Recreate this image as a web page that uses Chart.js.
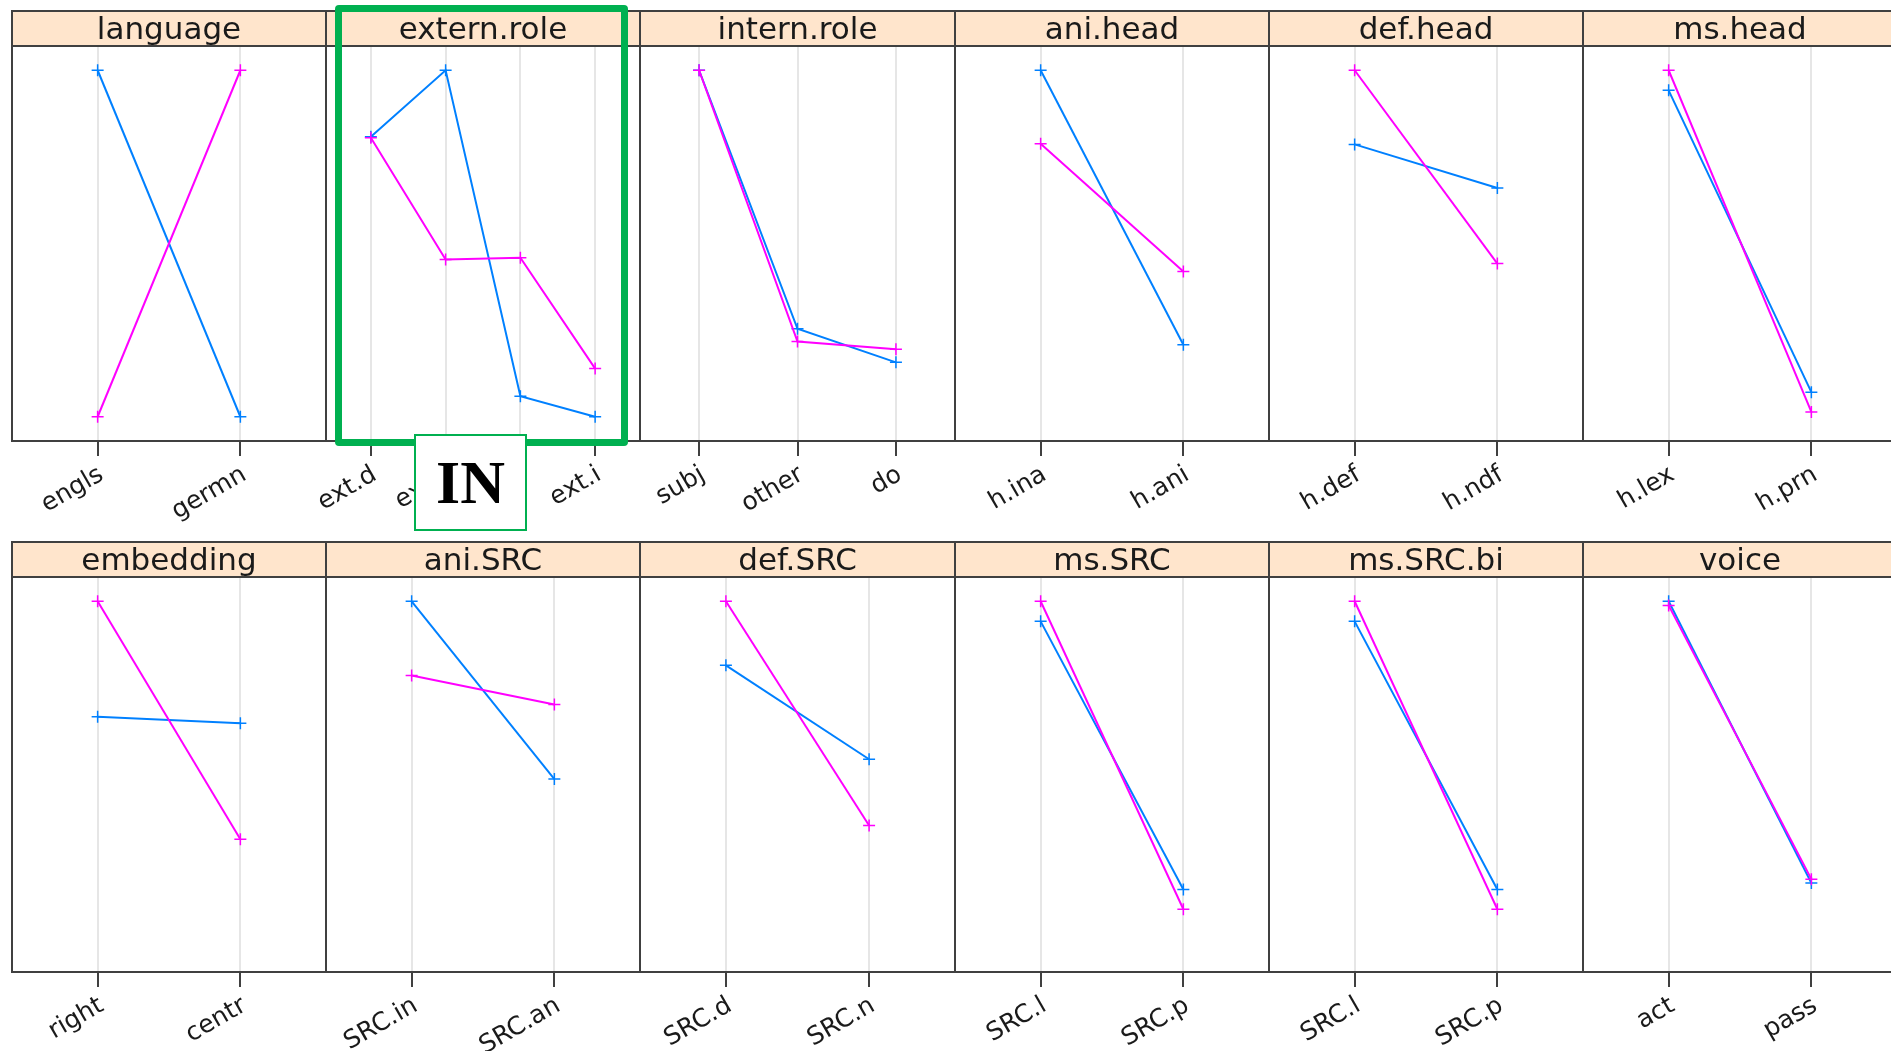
<!DOCTYPE html>
<html>
<head>
<meta charset="utf-8">
<title>Perfiles por factor</title>
<script src="https://cdn.jsdelivr.net/npm/chart.js@4.4.1/dist/chart.umd.min.js"></script>
<style>
  html, body { margin: 0; padding: 0; background: #fff; overflow: hidden; }
  body { width: 1891px; height: 1051px; position: relative; }
  canvas.panel { position: absolute; }
  #marco {
    position: absolute; left: 335px; top: 5px; width: 293px; height: 441px;
    box-sizing: border-box; border: 7px solid #00b050; border-radius: 4px; z-index: 10;
  }
  #etiqueta {
    position: absolute; left: 414px; top: 434px; width: 113px; height: 97px;
    box-sizing: border-box; border: 2px solid #00b050; background: #fff; z-index: 11;
    font: bold 62px "Liberation Serif", "DejaVu Serif", serif; color: #000;
    display: flex; align-items: center; justify-content: center;
  }
</style>
</head>
<body>
<div id="marco"></div>
<div id="etiqueta">IN</div>
<script>
// factores (uno por panel), en orden de lectura
var panelNames = ["language", "extern.role", "intern.role", "ani.head", "def.head", "ms.head",
                  "embedding", "ani.SRC", "def.SRC", "ms.SRC", "ms.SRC.bi", "voice"];

// niveles de cada factor
var levelLabels = [
    ["engls", "germn"],
    ["ext.d", "ext.s", "ext.o", "ext.i"],
    ["subj", "other", "do"],
    ["h.ina", "h.ani"],
    ["h.def", "h.ndf"],
    ["h.lex", "h.prn"],
    ["right", "centr"],
    ["SRC.in", "SRC.an"],
    ["SRC.d", "SRC.n"],
    ["SRC.l", "SRC.p"],
    ["SRC.l", "SRC.p"],
    ["act", "pass"]
];

// valores del grupo azul (ingles)
var english = [
    [1.0, 0.0],
    [0.808, 1.0, 0.059, 0.0],
    [1.0, 0.254, 0.157],
    [1.0, 0.208],
    [0.786, 0.66],
    [0.942, 0.071],
    [0.667, 0.648],
    [1.0, 0.487],
    [0.815, 0.544],
    [0.942, 0.168],
    [0.942, 0.168],
    [1.0, 0.187]
];

// valores del grupo rosa (aleman)
var german = [
    [0.0, 1.0],
    [0.805, 0.454, 0.459, 0.139],
    [1.0, 0.217, 0.195],
    [0.788, 0.419],
    [1.0, 0.442],
    [1.0, 0.014],
    [1.0, 0.313],
    [0.786, 0.702],
    [1.0, 0.353],
    [1.0, 0.111],
    [1.0, 0.111],
    [0.988, 0.198]
];

var colLeft = 12, colWidth = 314.2;
var rowTop = [10, 541];
var stripH = 36, panelH = 395, axisH = 100, padL = 80, padR = 20;

// fondo de la tira y cajas de cada panel
var cajaPanel = {
    id: 'cajaPanel',
    beforeDraw: function (chart) {
        var a = chart.chartArea, ctx = chart.ctx;
        ctx.save();
        ctx.fillStyle = '#ffe5cc';
        ctx.fillRect(a.left, a.top - stripH, a.right - a.left, stripH);
        ctx.restore();
    },
    afterDraw: function (chart) {
        var a = chart.chartArea, ctx = chart.ctx;
        ctx.save();
        ctx.strokeStyle = '#404040';
        ctx.lineWidth = 2;
        ctx.strokeRect(a.left, a.top - stripH + 1, a.right - a.left, stripH - 1);
        ctx.strokeRect(a.left, a.top, a.right - a.left, a.bottom - a.top);
        ctx.restore();
    }
};

function crearPanel(k) {
    var fila = Math.floor(k / 6), col = k % 6;
    var x0 = Math.round(colLeft + col * colWidth);
    var x1 = Math.round(colLeft + (col + 1) * colWidth);
    var labels = levelLabels[k];

    var canvas = document.createElement('canvas');
    canvas.className = 'panel';
    canvas.width = padL + (x1 - x0) + padR;
    canvas.height = stripH + panelH + axisH;
    canvas.style.left = (x0 - padL) + 'px';
    canvas.style.top = rowTop[fila] + 'px';
    document.body.appendChild(canvas);

    function puntos(arr) {
        return arr.map(function (v, i) { return { x: i + 1, y: v }; });
    }

    new Chart(canvas.getContext('2d'), {
        type: 'line',
        data: {
            datasets: [
                {
                    label: 'english',
                    data: puntos(english[k]),
                    borderColor: '#0080ff',
                    backgroundColor: '#0080ff',
                    borderWidth: 2,
                    pointStyle: 'cross',
                    pointRadius: 6,
                    pointBorderWidth: 1.5,
                    order: 1
                },
                {
                    label: 'german',
                    data: puntos(german[k]),
                    borderColor: '#ff00ff',
                    backgroundColor: '#ff00ff',
                    borderWidth: 2,
                    pointStyle: 'cross',
                    pointRadius: 6,
                    pointBorderWidth: 1.5,
                    order: 0
                }
            ]
        },
        options: {
            responsive: false,
            animation: false,
            devicePixelRatio: 1,
            layout: { padding: { left: padL, right: padR, top: 0, bottom: 0 } },
            plugins: {
                legend: { display: false },
                tooltip: { enabled: false },
                title: {
                    display: true,
                    text: panelNames[k],
                    color: '#1a1a1a',
                    font: { family: 'DejaVu Sans', size: 31, weight: 'normal', lineHeight: 1 },
                    padding: { top: 5, bottom: 0 }
                }
            },
            scales: {
                x: {
                    type: 'linear',
                    min: 0.4,
                    max: labels.length + 0.6,
                    afterBuildTicks: function (scale) {
                        scale.ticks = labels.map(function (_, i) { return { value: i + 1 }; });
                    },
                    afterFit: function (scale) { scale.height = axisH; },
                    grid: {
                        color: '#e6e6e6',
                        lineWidth: 2,
                        tickColor: '#404040',
                        tickWidth: 2,
                        tickLength: 15
                    },
                    border: { display: true, color: '#404040', width: 2 },
                    ticks: {
                        autoSkip: false,
                        minRotation: 30,
                        maxRotation: 30,
                        padding: 4,
                        labelOffset: 4,
                        color: '#1a1a1a',
                        font: { family: 'DejaVu Sans', size: 25 },
                        callback: function (v) { return labels[v - 1]; }
                    }
                },
                y: { display: false, min: -0.07, max: 1.07 }
            }
        },
        plugins: [cajaPanel]
    });
}

for (var k = 0; k < panelNames.length; k++) {
    crearPanel(k);
}
</script>
</body>
</html>
